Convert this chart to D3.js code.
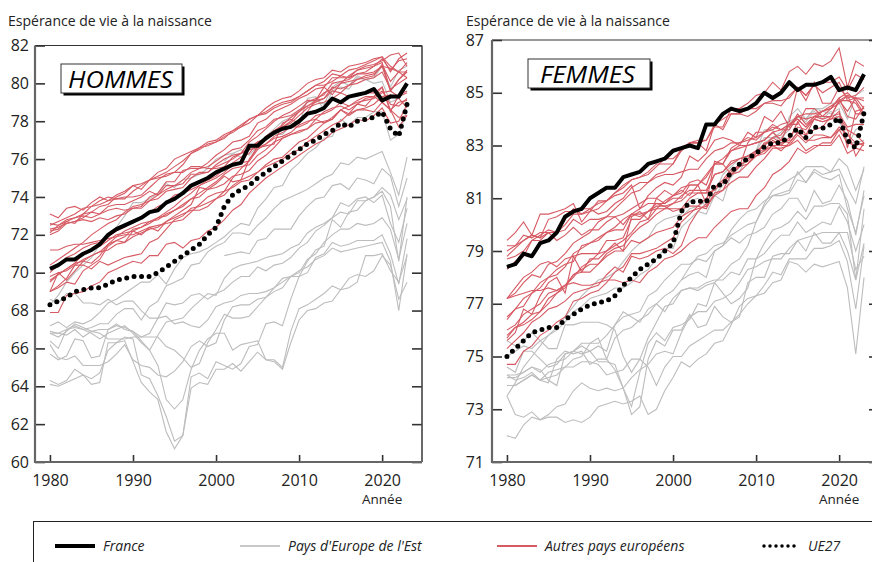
<!DOCTYPE html>
<html><head><meta charset="utf-8">
<script src="https://cdn.jsdelivr.net/npm/d3@7"></script>
<style>
body{margin:0;background:#fff;}
svg{display:block;font-family:"Open Sans",sans-serif;}
</style></head>
<body>
<svg id="c" width="872" height="562"></svg>
<script>
const years = [1980,1981,1982,1983,1984,1985,1986,1987,1988,1989,1990,1991,1992,1993,1994,1995,1996,1997,1998,1999,2000,2001,2002,2003,2004,2005,2006,2007,2008,2009,2010,2011,2012,2013,2014,2015,2016,2017,2018,2019,2020,2021,2022,2023];
const xTicks = [1980,1990,2000,2010,2020];
const yTicksH = [60,62,64,66,68,70,72,74,76,78,80,82];
const yTicksF = [71,73,75,77,79,81,83,85,87];

// ---------- HOMMES ----------
const franceH = [70.2,70.4,70.7,70.7,71.0,71.2,71.5,72.0,72.3,72.5,72.7,72.9,73.2,73.3,73.7,73.9,74.2,74.6,74.8,75.0,75.3,75.5,75.7,75.8,76.7,76.7,77.1,77.4,77.6,77.7,78.0,78.4,78.5,78.7,79.2,79.0,79.3,79.4,79.5,79.7,79.1,79.3,79.3,80.0];
const ue27H = [68.3,68.5,68.7,69.0,69.1,69.2,69.2,69.4,69.6,69.7,69.8,69.8,69.8,70.0,70.3,70.6,70.9,71.2,71.5,72.0,72.4,73.5,74.1,74.4,74.6,75.0,75.3,75.6,75.9,76.2,76.5,76.8,77.0,77.3,77.5,77.9,77.7,78.0,78.1,78.2,78.5,77.6,77.2,78.9];
const autresH = [
 [73.1,72.9,73.4,73.5,73.3,73.7,74.0,73.8,74.1,74.3,74.6,74.4,74.9,75.1,75.3,75.6,75.9,76.3,76.6,76.9,77.0,77.3,77.5,77.8,78.1,78.3,78.5,78.8,79.0,79.1,79.3,79.6,79.9,80.1,80.5,80.4,80.7,80.8,81.0,81.2,81.4,80.9,80.6,81.1],
 [72.5,72.7,72.9,73.1,73.4,73.5,73.6,73.8,73.9,73.9,74.3,74.6,74.9,75.3,75.5,76.0,76.2,76.4,76.6,76.7,76.9,77.1,77.5,77.7,77.9,78.3,78.4,78.7,78.9,79.0,79.3,79.6,79.9,79.9,80.1,80.4,80.3,80.5,80.6,80.9,81.3,80.7,81.2,81.3],
 [72.3,72.4,72.6,72.7,72.8,72.7,72.9,72.8,73.0,73.1,73.4,73.5,74.0,74.2,74.8,74.8,75.4,75.5,75.5,75.6,75.9,76.2,76.5,76.6,77.0,77.5,77.7,78.1,78.2,78.3,78.6,78.8,79.1,79.5,79.7,80.0,80.4,80.7,80.9,81.0,81.2,81.5,81.6,80.9],
 [72.6,72.5,72.7,72.9,73.0,72.9,73.1,73.5,73.6,73.6,73.8,74.0,74.3,74.1,74.6,74.6,74.7,75.2,75.2,75.3,75.6,75.8,76.0,76.3,76.9,77.2,77.6,78.0,78.3,78.5,78.8,79.1,79.1,79.2,79.8,79.7,79.9,80.0,80.2,80.3,80.6,79.7,80.0,80.3],
 [72.2,72.3,72.7,72.6,73.1,73.5,73.8,74.0,73.9,74.0,74.0,74.1,74.5,74.9,75.2,75.3,75.7,76.3,76.5,76.8,76.9,77.2,77.4,77.7,78.1,78.3,78.7,79.0,79.2,79.3,79.6,80.0,80.2,80.3,80.7,80.6,80.9,81.0,81.1,81.3,81.4,80.6,81.3,81.6],
 [72.1,72.5,72.8,72.9,73.1,73.2,73.1,73.3,73.4,73.3,73.4,73.4,73.8,73.9,74.3,74.4,74.5,75.0,75.3,75.3,75.7,76.0,76.2,76.3,76.6,76.9,77.0,77.5,77.8,78.2,78.5,79.0,79.2,79.4,80.0,80.1,80.2,80.5,80.5,80.6,80.9,79.6,80.2,80.7],
 [72.0,72.2,72.6,72.7,72.9,73.2,73.5,73.6,74.0,74.2,74.6,74.7,74.9,75.0,75.1,75.3,75.3,75.6,75.6,75.5,75.5,75.6,76.1,76.3,76.5,76.6,76.8,77.1,77.2,77.4,77.8,78.0,78.1,78.5,78.7,78.8,78.6,78.9,78.8,79.3,79.0,78.6,77.7,78.3],
 [70.4,70.7,71.0,71.3,71.6,72.0,72.3,72.6,72.8,73.2,73.5,73.6,73.8,74.1,74.4,74.6,74.9,75.3,75.5,75.8,76.2,76.5,76.9,77.0,77.2,77.9,78.1,78.5,78.7,78.9,79.2,79.4,79.7,79.8,80.3,80.3,80.3,80.7,80.8,80.9,81.1,79.6,80.2,80.6],
 [70.0,70.4,70.8,71.0,71.3,71.5,71.6,71.9,72.2,72.4,72.7,72.9,73.2,73.5,73.7,74.1,74.2,74.4,74.6,74.9,75.1,75.5,75.8,76.1,76.3,76.9,77.1,77.5,77.7,77.9,78.3,78.7,78.9,79.0,79.2,79.5,79.3,79.4,79.5,79.5,79.8,78.6,79.0,79.1],
 [71.2,71.2,71.4,71.5,71.5,71.6,71.7,71.8,71.9,72.0,72.0,72.2,72.4,72.5,72.6,72.7,72.8,73.2,73.6,74.0,74.2,74.3,74.5,74.8,74.9,75.3,75.7,76.0,76.1,76.5,76.9,77.1,77.5,77.9,78.2,78.6,78.8,79.0,79.1,79.2,79.5,79.6,79.3,79.5],
 [69.6,69.9,70.2,70.5,71.0,71.2,71.4,71.7,72.0,72.1,72.2,72.4,72.7,72.8,73.1,73.3,73.5,73.9,74.2,74.5,74.8,75.2,75.5,75.6,75.7,76.2,76.5,76.9,77.1,77.3,77.4,77.6,77.9,78.0,78.1,78.6,78.3,78.6,78.6,78.5,79.0,78.6,78.2,78.3],
 [69.0,69.2,69.5,69.4,70.1,70.4,70.7,71.4,71.7,71.9,72.3,72.4,72.6,72.9,73.2,73.5,73.9,74.2,74.6,74.8,75.0,75.3,75.7,75.8,75.9,76.5,76.8,77.2,77.4,77.7,77.7,77.9,78.3,78.4,78.6,79.0,78.8,79.1,79.3,79.3,79.6,78.9,78.8,79.2],
 [69.5,69.9,70.2,70.5,70.6,70.9,71.1,71.5,71.9,72.2,72.4,72.6,72.7,72.9,73.0,73.3,73.6,73.9,74.0,74.4,74.5,74.7,75.1,75.2,75.4,75.9,76.2,76.6,77.1,77.3,77.5,77.6,78.1,77.9,78.1,78.6,78.4,78.9,79.2,79.3,79.8,78.5,79.4,79.6],
 [69.0,69.3,69.7,70.4,70.4,70.2,70.6,70.4,70.6,70.8,70.9,71.0,71.6,71.8,72.3,72.8,73.0,73.4,73.5,73.7,73.9,74.1,74.6,74.9,75.1,75.3,75.6,75.8,76.0,76.3,76.5,76.9,77.2,77.5,77.8,78.0,78.4,78.6,78.7,78.9,79.3,79.4,79.2,78.7],
 [69.8,70.0,70.1,70.4,70.7,70.9,71.1,71.2,71.5,71.6,71.9,72.1,72.3,72.4,72.7,72.9,73.1,73.3,73.3,73.5,73.9,74.3,75.0,75.5,75.9,76.7,77.2,77.5,77.7,78.0,78.5,78.8,79.0,79.2,79.6,79.5,79.9,80.2,80.4,80.5,80.9,80.8,80.6,80.6],
 [69.0,70.0,69.6,70.1,70.6,70.5,70.9,71.5,71.7,71.6,72.2,72.0,72.4,72.2,72.7,73.0,73.3,73.6,74.5,74.4,74.7,75.1,74.8,74.9,76.0,76.6,76.7,76.8,77.9,78.1,77.9,78.5,79.1,79.8,79.4,80.0,80.1,80.2,80.3,80.4,81.0,80.1,80.6,80.3],
 [67.9,67.9,68.8,68.9,69.0,69.3,69.5,70.0,70.2,70.4,70.6,70.5,70.9,70.9,71.5,71.6,71.3,71.7,71.8,72.2,72.4,72.8,73.3,73.6,74.2,74.6,75.0,75.3,75.6,75.9,76.2,76.5,76.8,77.0,77.4,77.6,77.8,78.1,78.0,78.3,78.7,77.9,78.0,78.9]
];
const estH = [
 [66.8,66.8,67.0,67.1,67.0,67.1,67.3,67.3,67.8,68.1,68.1,67.5,68.2,68.5,69.3,69.5,69.7,70.4,70.5,71.1,71.4,71.6,72.1,72.1,72.0,72.5,72.9,73.4,73.8,74.0,74.2,74.4,74.7,75.0,75.2,75.8,75.7,76.1,76.0,76.2,76.4,75.3,74.1,76.1],
 [66.9,66.8,66.7,67.0,66.6,66.9,67.0,67.0,67.2,67.1,66.9,66.6,66.8,67.6,68.4,68.3,68.4,68.8,68.9,68.6,68.9,69.1,69.5,69.8,69.8,70.3,70.1,70.4,70.5,70.8,71.3,71.6,72.2,72.5,72.9,73.2,73.1,73.8,73.8,74.0,74.3,73.5,70.6,74.0],
 [66.2,65.5,65.4,65.6,65.1,65.1,65.1,65.3,65.7,66.2,65.4,65.1,65.0,64.6,64.5,64.8,65.3,66.1,66.4,66.1,66.3,67.5,68.2,68.3,68.3,68.6,68.7,69.0,69.2,69.8,70.0,70.7,71.0,71.6,72.0,72.3,72.3,72.6,72.5,72.6,72.9,72.3,70.7,72.6],
 [66.4,66.0,67.0,67.2,67.0,66.8,66.5,66.8,67.0,67.2,66.8,66.3,65.9,66.7,67.4,67.5,67.6,68.1,68.5,68.9,68.8,69.7,70.2,70.4,70.5,70.6,70.8,70.9,71.0,71.3,71.5,72.1,72.4,72.6,72.9,73.7,73.5,73.9,74.0,73.7,74.1,72.6,71.6,73.4],
 [68.6,68.4,68.9,68.9,68.4,68.4,68.3,68.6,68.3,68.5,68.5,68.0,67.6,67.6,67.7,67.3,67.4,67.2,67.1,67.5,68.2,68.4,68.5,68.8,68.9,68.9,69.0,69.2,69.5,69.8,70.1,70.3,70.7,70.9,71.3,71.1,71.2,71.3,71.4,71.5,71.6,70.6,68.0,71.0],
 [66.8,66.6,66.9,67.3,67.1,66.9,66.8,66.5,66.5,66.5,66.6,66.6,66.6,66.6,66.1,65.9,65.5,65.0,65.2,66.3,67.0,67.8,67.6,67.6,67.7,68.2,68.7,69.2,69.7,69.8,69.8,70.0,70.8,71.0,71.6,71.4,71.5,71.7,71.7,71.7,72.0,71.0,69.4,71.8],
 [67.2,67.4,67.1,67.4,67.3,67.5,67.9,68.4,68.6,68.9,69.2,69.5,69.5,69.9,69.4,70.2,70.8,71.0,71.1,71.3,71.6,71.9,72.3,72.6,72.5,73.4,73.9,74.5,74.6,75.4,75.8,76.3,76.6,77.1,77.2,78.1,77.8,78.2,78.2,78.5,78.5,77.0,77.3,78.5],
 [64.3,64.1,64.3,64.9,64.6,64.4,64.7,65.9,66.3,66.6,66.5,64.6,64.4,63.5,62.4,61.1,61.4,64.5,64.7,64.4,65.3,65.1,64.9,65.2,66.1,66.2,67.3,67.4,67.2,68.6,69.8,70.6,71.2,71.4,72.8,72.4,73.2,73.3,73.8,74.0,74.5,74.1,72.8,73.9],
 [64.1,64.0,64.2,64.4,64.6,64.1,64.2,66.3,66.3,66.4,65.3,64.2,63.7,63.3,61.6,60.7,61.4,63.9,64.2,64.1,64.9,64.9,65.2,64.8,65.3,65.8,65.4,65.4,65.0,66.9,68.1,68.3,68.6,68.9,69.3,69.1,69.7,69.9,69.8,70.1,70.9,70.4,68.6,69.5],
 [65.7,65.4,65.6,66.5,66.4,65.5,65.6,67.0,67.3,67.0,66.9,66.4,65.9,65.1,63.3,62.8,63.3,64.9,65.9,66.5,66.8,66.8,65.9,66.2,66.3,66.4,65.4,65.3,64.9,66.3,67.5,68.0,68.1,68.4,68.5,69.1,69.2,69.5,70.9,70.9,71.0,70.1,69.5,70.9],
 [null,null,null,null,null,null,null,null,null,null,null,null,null,null,null,null,null,null,null,null,null,70.9,71.0,71.1,71.0,71.7,71.8,72.3,72.3,72.3,73.0,73.5,73.9,74.0,74.6,74.7,74.4,75.0,74.9,74.7,75.5,75.1,73.5,75.0],
 [68.3,68.8,69.5,70.0,70.4,70.8,71.5,71.9,72.4,73.0,73.7,73.7,73.9,74.2,74.7,74.5,74.9,75.0,75.2,75.5,76.0,76.2,76.3,76.1,76.5,76.9,77.1,77.3,77.3,77.8,77.8,79.2,79.3,78.6,79.6,79.8,79.7,80.3,80.2,80.3,80.9,79.8,80.7,80.9],
 [null,null,null,null,null,null,null,null,null,null,null,null,null,null,null,null,null,null,null,null,null,75.9,76.3,76.5,76.2,76.7,77.2,77.6,78.0,78.2,78.6,79.0,79.1,78.9,79.8,80.1,79.9,80.4,80.2,80.0,80.1,79.0,79.2,79.9]
];

// ---------- FEMMES ----------
const franceF = [78.4,78.5,78.9,78.8,79.3,79.4,79.7,80.3,80.5,80.6,81.0,81.2,81.4,81.4,81.8,81.9,82.0,82.3,82.4,82.5,82.8,82.9,83.0,82.9,83.8,83.8,84.2,84.4,84.3,84.4,84.6,85.0,84.8,85.0,85.4,85.1,85.3,85.3,85.4,85.6,85.1,85.2,85.1,85.7];
const ue27F = [75.0,75.3,75.6,75.9,76.0,76.1,76.1,76.4,76.6,76.8,76.95,77.05,77.1,77.3,77.7,78.0,78.3,78.5,78.7,79.0,79.3,80.5,80.85,80.9,80.85,81.5,81.5,82.0,82.3,82.5,82.7,82.95,83.1,83.1,83.35,83.65,83.3,83.7,83.65,83.8,84.05,83.2,82.9,84.25];
const autresF = [
 [78.3,78.6,78.8,79.4,79.4,79.7,79.7,80.0,80.4,80.4,80.5,80.6,80.9,81.2,81.5,81.7,81.8,82.0,82.3,82.3,82.3,82.9,83.1,83.2,83.2,83.7,83.7,84.4,84.4,84.6,84.9,85.0,85.4,85.1,85.8,86.0,85.7,86.1,86.0,86.2,86.7,85.2,86.2,86.0],
 [78.8,79.1,79.4,79.6,79.5,80.2,80.3,80.5,80.5,80.6,80.6,80.8,80.9,81.2,81.4,81.7,81.8,81.9,82.2,82.5,82.5,82.8,83.1,83.1,83.2,83.8,84.0,84.2,84.2,84.4,84.4,84.6,84.7,84.7,84.8,85.2,84.9,85.3,85.4,85.4,85.6,85.1,85.7,85.5],
 [77.2,77.4,77.8,78.1,78.0,78.5,78.6,78.9,79.3,79.5,79.7,80.1,80.3,80.6,80.9,81.2,81.3,81.6,81.9,82.0,82.3,82.8,83.1,83.1,82.8,83.8,83.6,84.2,84.2,84.1,84.3,84.6,84.6,84.5,84.9,85.2,84.9,85.3,85.0,85.2,85.4,84.7,84.8,84.8],
 [78.7,78.8,79.0,79.4,79.6,79.8,79.7,80.2,80.6,80.4,80.6,80.4,80.5,80.8,81.0,81.4,81.6,81.6,81.8,81.9,81.9,82.0,82.1,82.1,82.5,82.8,82.9,83.1,83.1,83.2,83.3,83.5,83.7,83.6,83.8,84.1,84.0,84.1,84.1,84.1,84.7,84.3,84.8,84.7],
 [79.0,79.2,79.4,79.6,79.5,79.7,79.4,79.6,79.9,79.6,79.8,79.8,80.1,80.3,80.4,80.6,80.8,81.0,81.0,81.3,81.1,81.4,81.5,81.5,81.9,82.3,82.5,82.8,82.9,83.0,83.1,83.2,83.5,83.6,83.6,84.1,84.2,84.2,84.3,84.5,84.7,84.9,84.8,84.4],
 [79.2,79.2,79.6,79.5,79.7,79.7,79.7,79.8,80.2,80.0,80.2,80.2,80.3,80.3,80.0,80.4,80.4,80.5,80.7,80.7,80.5,80.6,80.7,80.7,81.0,81.4,81.6,82.0,82.3,82.4,82.8,82.8,83.0,82.8,83.1,83.5,83.2,83.2,83.3,83.3,83.6,83.1,83.0,83.1],
 [79.4,79.7,80.1,79.6,80.4,80.4,80.5,80.6,80.8,80.1,80.5,80.9,80.9,81.1,81.2,81.5,80.6,81.1,81.4,81.6,81.5,81.8,82.6,82.4,82.7,83.2,83.3,83.2,83.0,83.5,83.3,84.1,83.9,84.3,83.7,84.2,83.8,84.1,84.3,84.4,84.6,84.9,84.2,84.2],
 [76.5,76.8,77.2,77.4,77.8,78.0,78.3,78.5,78.6,79.2,79.3,79.5,79.7,79.9,80.2,80.4,80.3,80.5,80.6,80.6,80.6,80.6,81.0,81.2,81.2,81.3,81.6,81.9,82.0,82.3,82.7,83.0,83.3,83.4,83.8,84.0,83.7,84.0,83.9,84.0,84.1,83.6,82.6,83.1],
 [77.2,77.6,78.0,78.2,78.5,78.6,78.4,78.7,78.8,78.9,78.9,78.9,79.4,79.4,79.5,80.2,80.2,80.5,80.8,80.8,81.0,81.0,81.5,81.5,81.8,82.3,82.3,82.8,83.0,83.0,83.1,83.2,83.5,83.2,83.8,83.8,84.4,84.4,84.1,84.4,84.8,85.0,84.7,84.2],
 [75.8,76.1,76.2,76.4,76.7,77.0,77.4,77.7,78.0,78.4,78.6,78.9,79.0,79.2,79.4,79.7,80.1,80.2,80.6,80.9,81.1,81.2,81.6,81.7,81.5,82.3,82.3,82.9,83.1,83.3,83.2,83.5,83.8,83.6,83.8,84.0,83.7,84.1,84.0,84.1,84.2,83.7,83.8,83.8],
 [76.4,76.8,76.9,77.4,77.6,78.0,78.1,78.4,78.9,79.1,79.3,79.4,79.7,79.8,79.8,80.4,80.6,80.8,80.8,80.7,80.8,80.9,81.2,81.2,81.2,81.9,82.0,82.4,82.5,82.6,82.8,83.0,83.3,83.1,83.2,83.9,83.4,84.0,83.9,84.0,84.3,82.9,84.3,84.4],
 [75.7,76.1,76.3,76.6,76.7,77.2,77.4,77.6,78.1,78.3,78.5,78.5,78.9,79.1,79.2,79.6,79.9,80.1,80.4,80.6,80.8,81.1,81.3,81.3,81.3,81.9,82.0,82.3,82.5,82.6,82.6,82.7,83.0,83.0,83.0,83.4,83.1,83.4,83.4,83.3,83.7,83.4,83.1,83.0],
 [76.0,76.2,76.6,76.8,77.0,77.4,77.5,77.7,78.1,78.2,78.2,78.5,78.8,79.0,79.0,79.4,79.3,79.5,79.7,79.8,79.9,80.3,80.5,80.6,80.7,81.1,81.3,81.6,81.8,81.8,82.2,82.5,82.9,82.9,83.0,83.2,82.8,83.0,83.0,83.0,83.4,82.7,82.9,82.8],
 [77.2,77.3,77.4,77.5,77.5,77.6,77.5,77.7,77.8,77.7,77.7,77.8,77.9,77.9,77.8,77.9,77.8,78.2,78.4,78.7,78.8,79.0,79.3,79.5,79.5,79.9,80.2,80.5,80.6,80.6,81.1,81.4,81.9,82.1,82.4,82.9,82.7,82.9,83.1,83.1,83.6,83.6,83.4,83.1],
 [75.3,75.6,75.9,76.3,76.5,76.8,76.9,77.1,77.4,77.5,77.6,77.7,78.1,78.4,78.2,78.8,78.7,78.8,79.0,79.1,78.9,79.2,80.0,80.5,80.8,81.4,81.7,82.1,82.2,82.5,82.7,83.1,83.1,83.2,83.1,83.5,83.4,83.6,83.7,84.1,84.7,84.7,84.6,84.1],
 [75.6,75.9,76.8,76.6,77.3,77.8,78.0,77.4,78.8,78.2,78.7,78.7,79.0,79.3,79.0,80.3,80.5,80.2,81.0,80.8,81.1,81.3,81.1,81.5,80.8,82.4,82.3,81.9,82.2,83.1,83.5,83.5,83.6,83.8,83.9,85.2,84.7,85.4,84.6,84.6,85.2,84.8,84.9,85.2],
 [74.7,74.7,75.2,75.4,75.8,76.0,76.3,76.5,77.1,77.2,77.4,77.5,77.8,78.2,78.4,78.9,78.9,79.0,79.1,79.3,79.5,80.1,80.4,80.7,80.6,81.2,81.3,81.9,82.2,82.3,82.6,82.8,83.2,83.0,83.3,83.7,83.6,84.0,84.3,84.4,84.8,84.1,84.0,84.5]
];
const estF = [
 [73.9,73.9,74.1,74.3,74.1,74.2,74.3,74.6,74.9,75.0,75.5,75.5,75.8,76.2,76.5,76.6,76.7,77.3,77.5,77.9,78.2,78.5,78.5,78.7,78.6,79.0,79.2,79.8,80.2,80.5,80.6,80.9,81.1,81.2,81.3,82.0,81.6,82.1,81.9,82.0,82.1,81.4,80.8,82.2],
 [74.3,74.3,74.4,74.6,74.4,74.7,74.8,74.9,75.2,75.4,75.2,75.4,75.2,76.2,76.7,76.5,76.3,76.8,77.0,76.7,77.2,77.5,77.6,77.6,77.8,77.9,77.9,78.2,78.1,78.7,78.7,79.3,79.8,79.9,80.1,80.5,80.2,80.7,80.7,80.8,80.8,80.4,77.9,80.6],
 [73.5,72.8,72.7,72.9,72.6,72.8,73.1,73.2,73.7,74.0,73.8,73.7,73.8,73.7,73.8,74.2,74.5,74.7,75.1,75.2,75.1,75.9,76.5,76.7,76.7,77.1,77.2,77.4,77.8,78.3,78.4,78.6,78.7,78.7,79.1,79.4,79.0,79.7,79.3,79.3,79.7,79.0,77.9,79.3],
 [74.6,74.4,75.2,75.2,74.9,74.6,74.7,75.1,75.2,75.5,75.5,75.7,74.9,75.7,76.0,76.1,76.4,76.6,77.0,77.3,77.5,77.9,78.4,78.8,78.9,79.2,79.3,79.6,79.8,80.0,80.1,80.7,81.1,81.1,81.2,81.7,81.6,82.0,81.8,81.7,81.9,80.6,79.7,81.1],
 [73.9,73.9,74.1,74.3,74.1,74.4,74.5,74.6,74.6,74.8,74.8,74.7,74.3,74.4,74.5,74.9,74.9,74.6,73.9,74.6,75.0,75.0,75.4,75.6,75.8,76.0,76.0,76.3,76.6,77.0,77.3,77.4,77.8,77.9,78.6,78.5,78.2,78.5,78.4,78.5,78.6,77.6,75.1,78.0],
 [72.0,71.9,72.4,72.7,72.6,72.7,72.7,72.5,72.6,72.5,72.7,73.1,73.2,73.3,73.2,73.3,73.5,72.8,73.0,73.7,74.2,74.8,74.6,74.9,75.1,75.5,75.6,76.2,76.9,77.2,77.3,77.7,78.2,78.1,78.7,78.7,78.7,79.1,79.1,79.2,79.4,78.6,76.8,79.2],
 [75.0,75.2,75.4,75.3,75.6,75.8,76.0,76.3,76.7,76.9,77.2,77.3,77.4,77.6,77.6,77.8,78.1,78.3,78.7,79.1,79.1,79.9,80.2,80.5,80.4,81.1,80.9,81.9,82.0,82.6,82.7,83.1,83.3,83.3,83.6,84.1,83.9,84.3,84.0,84.3,84.0,83.0,83.6,83.8],
 [74.3,74.1,74.2,74.4,74.1,74.0,74.9,75.2,75.1,75.2,74.7,74.9,74.9,74.5,73.8,73.1,74.4,75.5,75.9,75.6,76.1,76.2,76.4,77.0,76.9,77.8,78.1,78.5,78.7,79.2,80.1,80.8,81.3,81.5,81.7,81.9,82.2,82.2,82.2,82.0,82.5,82.2,81.3,82.1],
 [74.2,74.2,74.4,74.6,74.5,74.1,73.9,75.1,75.2,75.1,75.2,74.8,74.8,74.7,73.8,72.8,73.1,74.9,75.6,75.4,76.0,76.0,76.6,76.1,76.2,76.9,76.5,76.3,76.5,77.8,78.0,78.0,78.8,78.9,78.9,79.4,79.5,79.6,79.7,79.7,79.7,79.7,78.3,78.8],
 [75.6,75.4,75.6,75.9,75.6,75.3,75.3,76.2,76.2,76.3,76.3,76.3,76.2,76.0,75.0,74.4,74.9,75.7,76.3,76.9,77.0,77.5,77.6,77.5,77.7,77.8,77.4,77.0,77.2,77.6,78.7,78.9,79.3,79.6,79.6,80.1,79.7,79.9,80.1,80.0,80.7,80.1,79.0,80.0],
 [null,null,null,null,null,null,null,null,null,null,null,null,null,null,null,null,null,null,null,null,null,77.9,78.1,78.2,78.0,79.0,79.2,79.5,79.3,79.6,79.7,79.9,80.4,80.6,81.0,81.0,80.5,81.3,80.8,80.9,81.5,80.9,79.6,81.3],
 [73.5,74.0,74.6,75.0,75.4,75.8,76.1,76.5,76.9,77.3,77.6,77.9,78.0,78.2,78.6,79.0,79.3,79.5,80.0,80.2,80.3,80.4,80.9,81.0,80.7,81.2,81.9,82.2,82.5,82.6,82.8,83.6,83.6,83.0,84.1,84.4,84.0,84.4,84.4,84.6,84.6,84.0,84.9,85.1],
 [null,null,null,null,null,null,null,null,null,null,null,null,null,null,null,null,null,null,null,null,null,80.3,80.6,80.7,80.9,81.1,81.5,81.8,82.2,82.5,82.8,83.3,83.3,83.5,83.9,84.1,84.0,84.4,84.3,84.2,84.4,83.1,83.1,83.2]
];

const RED = "#d65a63", GREY = "#bdbdbd";
const svg = d3.select("#c");

function panel(opt) {
  const x = d3.scaleLinear().domain([1978.2, 2024.8]).range([opt.left, opt.left + 387]);
  const y = d3.scaleLinear().domain(opt.yDomain).range([462, opt.top]);
  const g = svg.append("g");
  const clipId = "clip" + opt.id;
  svg.append("clipPath").attr("id", clipId).append("rect")
    .attr("x", opt.left).attr("y", opt.top).attr("width", 387).attr("height", 462 - opt.top);

  const line = d3.line().defined(d => d[1] != null).x(d => x(d[0])).y(d => y(d[1]));
  const pairs = arr => years.map((yr, i) => [yr, arr[i]]);
  const lines = g.append("g").attr("clip-path", `url(#${clipId})`);
  opt.grey.forEach(s => lines.append("path").attr("d", line(pairs(s)))
    .attr("fill", "none").attr("stroke", GREY).attr("stroke-width", 1.1));
  opt.red.forEach(s => lines.append("path").attr("d", line(pairs(s)))
    .attr("fill", "none").attr("stroke", RED).attr("stroke-width", 1.1));
  lines.append("path").attr("d", line(pairs(opt.ue))).attr("fill", "none")
    .attr("stroke", "#000").attr("stroke-width", 5).attr("stroke-linecap", "round")
    .attr("stroke-dasharray", "0 7.5");
  lines.append("path").attr("d", line(pairs(opt.fr))).attr("fill", "none")
    .attr("stroke", "#000").attr("stroke-width", 4).attr("stroke-linejoin", "round");

  const ax = g.append("g").attr("transform", `translate(${opt.left},0)`)
    .call(d3.axisLeft(y).tickValues(opt.yTicks).tickSize(-10).tickPadding(opt.pad).tickFormat(d3.format("d")));
  const axR = g.append("g").attr("transform", `translate(${opt.left + 387},0)`)
    .call(d3.axisRight(y).tickValues(opt.yTicks).tickSize(-10).tickFormat(""));
  const axB = g.append("g").attr("transform", `translate(0,462)`)
    .call(d3.axisBottom(x).tickValues(xTicks).tickSize(-7).tickPadding(13).tickFormat(d3.format("d")));
  [ax, axR, axB].forEach(a => {
    a.select(".domain").remove();
    a.selectAll(".tick line").attr("stroke", "#333").attr("stroke-width", 1.6);
    a.selectAll("text").attr("font-size", 16).attr("fill", "#222").attr("font-family", "Open Sans");
  });
  g.append("line").attr("x1", opt.left).attr("x2", opt.left + 387).attr("y1", opt.top).attr("y2", opt.top)
    .attr("stroke", "#333").attr("stroke-width", 1.2);
  g.append("line").attr("x1", opt.left + 387).attr("x2", opt.left + 387).attr("y1", opt.top).attr("y2", 462)
    .attr("stroke", "#444").attr("stroke-width", 1.6);
  g.append("line").attr("x1", opt.left).attr("x2", opt.left).attr("y1", opt.top).attr("y2", 463)
    .attr("stroke", "#666").attr("stroke-width", 2.2);
  g.append("line").attr("x1", opt.left - 1).attr("x2", opt.left + 387).attr("y1", 462).attr("y2", 462)
    .attr("stroke", "#666").attr("stroke-width", 2.2);

  svg.append("text").attr("x", opt.titleX).attr("y", 26).attr("font-size", 14).attr("fill", "#222")
    .text("Espérance de vie à la naissance");
  svg.append("text").attr("x", x(2020)).attr("y", 504).attr("text-anchor", "middle")
    .attr("font-size", 13.5).attr("fill", "#222").text("Année");

  const b = opt.box;
  svg.append("rect").attr("x", b.x + 2.5).attr("y", b.y + 2.5).attr("width", b.w).attr("height", b.h).attr("fill", "#000");
  svg.append("rect").attr("x", b.x).attr("y", b.y).attr("width", b.w).attr("height", b.h)
    .attr("fill", "#fff").attr("stroke", "#333").attr("stroke-width", 1);
  svg.append("text").attr("x", b.tx).attr("y", b.y + 24)
    .attr("font-size", 24).attr("font-style", "italic").attr("fill", "#000")
    .attr("textLength", b.tw).attr("lengthAdjust", "spacingAndGlyphs").text(opt.label);
}

panel({id: "H", left: 35, top: 45.5, yDomain: [60, 82], yTicks: yTicksH, pad: 6,
  grey: estH, red: autresH, ue: ue27H, fr: franceH, titleX: 8, label: "HOMMES",
  box: {x: 61, y: 64, w: 121, h: 29, tx: 68, tw: 105}});
panel({id: "F", left: 492, top: 40, yDomain: [71, 87], yTicks: yTicksF, pad: 8,
  grey: estF, red: autresF, ue: ue27F, fr: franceF, titleX: 466, label: "FEMMES",
  box: {x: 528, y: 59, w: 122, h: 29, tx: 540, tw: 95}});

const leg = svg.append("g");
leg.append("rect").attr("x", 33.5).attr("y", 521.5).attr("width", 900).attr("height", 100)
  .attr("fill", "none").attr("stroke", "#222").attr("stroke-width", 1);
const items = [
  {x1: 55, x2: 95, tx: 103, label: "France", stroke: "#000", w: 4, dash: null},
  {x1: 240, x2: 280, tx: 288, label: "Pays d'Europe de l'Est", stroke: "#c8c8c8", w: 2, dash: null},
  {x1: 497, x2: 537, tx: 545, label: "Autres pays européens", stroke: RED, w: 2, dash: null},
  {x1: 764, x2: 796, tx: 808, label: "UE27", stroke: "#000", w: 3.5, dash: "0 6"}
];
items.forEach(it => {
  const l = leg.append("line").attr("x1", it.x1).attr("x2", it.x2).attr("y1", 546).attr("y2", 546)
    .attr("stroke", it.stroke).attr("stroke-width", it.w);
  if (it.dash) l.attr("stroke-dasharray", it.dash).attr("stroke-linecap", "round");
  leg.append("text").attr("x", it.tx).attr("y", 551).attr("font-size", 14).attr("font-style", "italic")
    .attr("fill", "#222").text(it.label);
});
</script>
</body></html>
